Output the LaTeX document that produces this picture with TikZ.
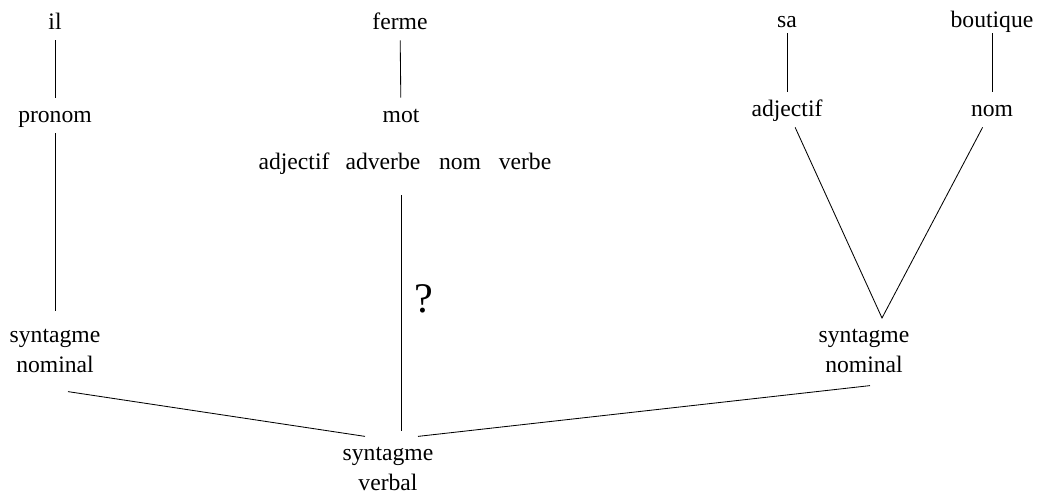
\documentclass[tikz,border=0pt]{standalone}
\usepackage{fontspec}
\setmainfont{Liberation Serif}
\usetikzlibrary{positioning,calc}

\begin{document}
\begin{tikzpicture}[x=0.025cm,y=-0.025cm,line width=0.6pt,
    every node/.style={font=\fontsize{16.8pt}{21.3pt}\selectfont,inner sep=2.1pt,anchor=base},
    lex/.style={text height=14.9pt,text depth=5.7pt},
    groupe/.style={align=center}]
\useasboundingbox (0,0) rectangle (1039,496);

% il
\node[lex] (il) at (55,29) {il};
\node[lex] (pronom) at (55,122) {pronom};
\node[groupe] (sn1) at (55,372) {syntagme\\nominal};

% ferme
\node[lex] (ferme) at (400,29) {ferme};
\node[lex] (mot) at (401,122) {mot};
\node[lex] (adj1) at (294,169) {adjectif};
\node[lex] (adv) at (383,169) {adverbe};
\node[lex] (nom1) at (460,169) {nom};
\node[lex] (verbe) at (525,169) {verbe};
\node[font=\fontsize{30pt}{34pt}\selectfont] (q) at (424,312) {?};

% sa boutique
\node[lex] (sa) at (787,27) {sa};
\node[lex] (boutique) at (992,27) {boutique};
\node[lex] (adj2) at (787,116) {adjectif};
\node[lex] (nom2) at (992,116) {nom};
\coordinate (pointe) at (882,318);
\node[groupe] (sn2) at (864,372) {syntagme\\nominal};

\node[groupe] (sv) at (388,490) {syntagme\\verbal};

\draw (il) -- (pronom);
\draw[shorten >=10pt] (pronom) -- (sn1);
\draw (ferme) -- (mot);
\draw[shorten <=10.7pt,shorten >=8.5pt] (adv.south -| mot.south) -- (sv.north -| mot.south);
\draw[shorten <=-3.5pt] (sa) -- (adj2);
\draw[shorten <=-3.5pt] (boutique) -- (nom2);
\draw (adj2) -- (pointe) -- (nom2);
\draw ($(sn1.south)+(13,16)$) -- ($(sv.north)+(-23,-7)$);
\draw ($(sn2.south)+(6,10)$) -- ($(sv.north)+(30,-7)$);

\end{tikzpicture}
\end{document}
